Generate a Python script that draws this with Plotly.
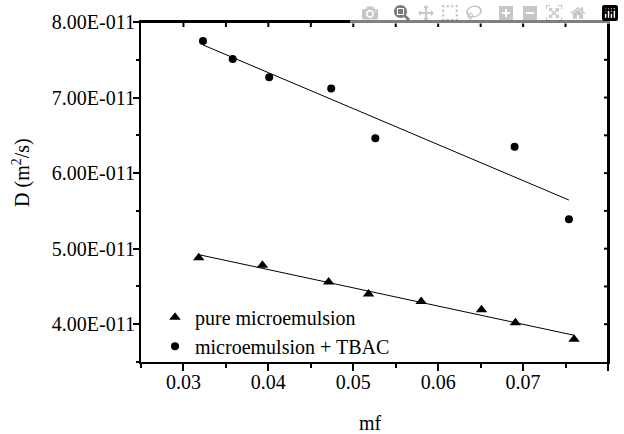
import numpy as np
import plotly.graph_objects as go

# Data
mf_pure = [0.0318, 0.0393, 0.0471, 0.0518, 0.0580, 0.0651, 0.0691, 0.0760]
D_pure = [4.88e-11, 4.78e-11, 4.56e-11, 4.40e-11, 4.30e-11, 4.19e-11, 4.02e-11, 3.80e-11]
mf_tbac = [0.0323, 0.0358, 0.0401, 0.0474, 0.0526, 0.0690, 0.0754]
D_tbac = [7.75e-11, 7.51e-11, 7.27e-11, 7.12e-11, 6.46e-11, 6.35e-11, 5.39e-11]

x_tickvals = [0.03, 0.04, 0.05, 0.06, 0.07, 0.08]
x_ticktext = ["0.03", "0.04", "0.05", "0.06", "0.07", "0.08"]
y_tickvals = [4e-11, 5e-11, 6e-11, 7e-11, 8e-11]
y_ticktext = ["4.00E-011", "5.00E-011", "6.00E-011", "7.00E-011", "8.00E-011"]
# positions of the inward ticks on the top and right frame (major + minor)
top_ticks = [0.03, 0.035, 0.04, 0.045, 0.05, 0.055, 0.06, 0.065, 0.07, 0.075]
right_ticks = [4e-11, 4.5e-11, 5e-11, 5.5e-11, 6e-11, 6.5e-11, 7e-11, 7.5e-11]

FONT = "Liberation Serif, Times New Roman, serif"

xr = [0.025, 0.08]
yr = [3.5e-11, 8e-11]

W, H = 624, 434
ML, MR, MT, MB = 141, 16, 22, 72
PW, PH = W - ML - MR, H - MT - MB


def fit_line(xs, ys):
    k, b = np.polyfit(xs, ys, 1)
    xe = np.array([min(xs), max(xs)])
    return xe, k * xe + b


fig = go.Figure()

fx, fy = fit_line(mf_tbac, D_tbac)
fig.add_trace(go.Scatter(x=fx, y=fy, mode="lines", line=dict(color="black", width=1),
                         showlegend=False, hoverinfo="skip"))
fx, fy = fit_line(mf_pure, D_pure)
fig.add_trace(go.Scatter(x=fx, y=fy, mode="lines", line=dict(color="black", width=1),
                         showlegend=False, hoverinfo="skip"))

# top / right frame with inward ticks, drawn through the axes' own scales
tick_dy = (yr[1] - yr[0]) * 5 / PH
tick_dx = (xr[1] - xr[0]) * 4 / PW
fx_frame = [xr[0], xr[1], xr[1]]
fy_frame = [yr[1], yr[1], yr[0]]
for t in top_ticks:
    fx_frame += [None, t, t]
    fy_frame += [None, yr[1], yr[1] - tick_dy]
for t in right_ticks:
    fx_frame += [None, xr[1], xr[1] - tick_dx]
    fy_frame += [None, t, t]
fig.add_trace(go.Scatter(x=fx_frame, y=fy_frame, mode="lines",
                         line=dict(color="black", width=2), cliponaxis=False,
                         showlegend=False, hoverinfo="skip"))

fig.add_trace(go.Scatter(x=mf_pure, y=D_pure, mode="markers", name="pure microemulsion",
                         marker=dict(symbol="triangle-up", size=10, color="black")))
fig.add_trace(go.Scatter(x=mf_tbac, y=D_tbac, mode="markers", name="microemulsion + TBAC",
                         marker=dict(symbol="circle", size=8, color="black")))

fig.update_layout(
    width=W, height=H,
    margin=dict(l=ML, r=MR, t=MT, b=MB),
    paper_bgcolor="white", plot_bgcolor="white",
    font=dict(family=FONT, size=20, color="black"),
    xaxis=dict(range=xr, tickvals=x_tickvals, ticktext=x_ticktext,
               ticks="outside", ticklen=7, tickwidth=1.5, tickcolor="black",
               ticklabelstandoff=-6, mirror=True, automargin=False,
               showline=True, linecolor="black", linewidth=2,
               showgrid=False, zeroline=False,
               tickfont=dict(family=FONT, size=20, color="black"),
               minor=dict(ticks="outside", ticklen=4, tickwidth=1.5, tickcolor="black",
                          tick0=0.025, dtick=0.005, showgrid=False)),
    yaxis=dict(range=yr, tickvals=y_tickvals, ticktext=y_ticktext,
               ticks="outside", ticklen=6, tickwidth=1.5, tickcolor="black",
               ticklabelstandoff=-6, mirror=True, automargin=False,
               showline=True, linecolor="black", linewidth=2,
               showgrid=False, zeroline=False,
               tickfont=dict(family=FONT, size=20, color="black"),
               minor=dict(ticks="outside", ticklen=3, tickwidth=1.5, tickcolor="black",
                          tick0=3.5e-11, dtick=0.5e-11, showgrid=False)),
    legend=dict(x=0.030, y=0.189, xanchor="left", yanchor="top",
                bgcolor="rgba(0,0,0,0)", font=dict(family=FONT, size=20, color="black"),
                tracegroupgap=0),
    annotations=[
        dict(text="D (m<sup>2</sup>/s)", xref="paper", yref="paper",
             x=-0.2548, y=0.556, xanchor="center", yanchor="middle",
             textangle=-90, showarrow=False,
             font=dict(family=FONT, size=20, color="black")),
        dict(text="mf", xref="paper", yref="paper", x=0.4925, y=-0.179,
             xanchor="center", yanchor="middle",
             showarrow=False, font=dict(family=FONT, size=20, color="black")),
    ],
)

fig.write_html("out.html",
               post_script="document.body.style.margin='0';document.body.style.overflow='hidden';")
